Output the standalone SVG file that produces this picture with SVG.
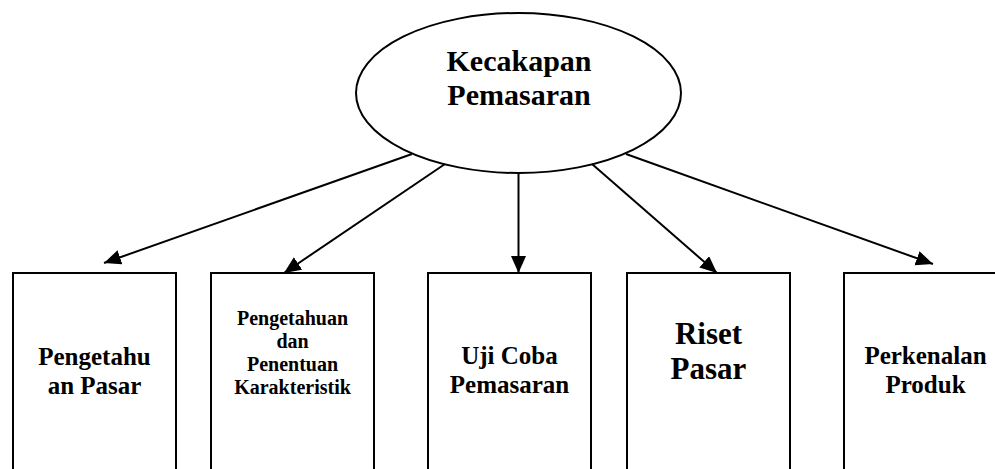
<svg xmlns="http://www.w3.org/2000/svg" width="995" height="469" viewBox="0 0 995 469">
  <defs>
    <marker id="arrow" markerUnits="userSpaceOnUse" markerWidth="18" markerHeight="16" refX="17" refY="7.5" orient="auto">
      <path d="M0,0 L17,7.5 L0,15 z" fill="#000"/>
    </marker>
    <style>
      .shape { fill: #fff; stroke: #000; stroke-width: 2; }
      .link { stroke: #000; stroke-width: 2; fill: none; marker-end: url(#arrow); }
      .lbl { font-weight: bold; fill: #000; text-anchor: middle; }
    </style>
  </defs>
  <rect width="995" height="469" fill="#fff"/>

  <g font-family="Liberation Serif, DejaVu Serif, serif">
    <!-- root concept -->
    <g id="kecakapan-pemasaran">
      <ellipse class="shape" cx="518.5" cy="93" rx="162.5" ry="80"/>
      <text class="lbl" x="519" y="71" font-size="30">Kecakapan</text>
      <text class="lbl" x="519" y="105" font-size="30">Pemasaran</text>
    </g>

    <!-- child boxes -->
    <g id="pengetahuan-pasar">
      <rect class="shape" x="13" y="273" width="163" height="210"/>
      <text class="lbl" x="94.5" y="365" font-size="25">Pengetahu</text>
      <text class="lbl" x="94.5" y="394" font-size="25">an Pasar</text>
    </g>

    <g id="pengetahuan-penentuan">
      <rect class="shape" x="211" y="273" width="163" height="210"/>
      <text class="lbl" x="292.5" y="325" font-size="20">Pengetahuan</text>
      <text class="lbl" x="292.5" y="348" font-size="20">dan</text>
      <text class="lbl" x="292.5" y="371" font-size="20">Penentuan</text>
      <text class="lbl" x="292.5" y="394" font-size="20">Karakteristik</text>
    </g>

    <g id="uji-coba">
      <rect class="shape" x="428" y="273" width="163" height="210"/>
      <text class="lbl" x="509.5" y="364" font-size="25">Uji Coba</text>
      <text class="lbl" x="509.5" y="393" font-size="25">Pemasaran</text>
    </g>

    <g id="riset-pasar">
      <rect class="shape" x="627" y="273" width="163" height="210"/>
      <text class="lbl" x="708.5" y="344" font-size="31">Riset</text>
      <text class="lbl" x="708.5" y="379" font-size="31">Pasar</text>
    </g>

    <g id="perkenalan-produk">
      <rect class="shape" x="844" y="273" width="163" height="210"/>
      <text class="lbl" x="925.5" y="364" font-size="25">Perkenalan</text>
      <text class="lbl" x="925.5" y="393" font-size="25">Produk</text>
    </g>
  </g>

  <!-- connectors -->
  <g id="connectors">
    <line class="link" x1="412" y1="154" x2="104" y2="263"/>
    <line class="link" x1="445" y1="164" x2="284" y2="273"/>
    <line class="link" x1="518.5" y1="173" x2="518.5" y2="273"/>
    <line class="link" x1="592" y1="164" x2="717" y2="273"/>
    <line class="link" x1="626" y1="154" x2="933" y2="264"/>
  </g>
</svg>
